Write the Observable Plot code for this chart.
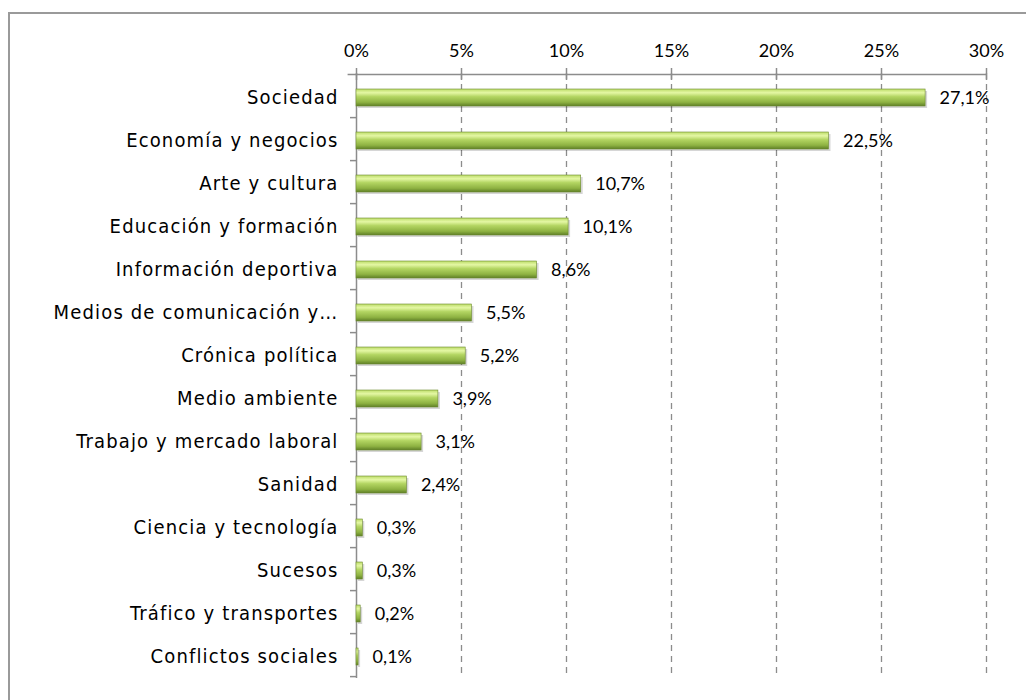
<!DOCTYPE html>
<html>
<head>
<meta charset="utf-8">
<script src="https://cdn.jsdelivr.net/npm/d3@7"></script>
<script src="https://cdn.jsdelivr.net/npm/@observablehq/plot@0.6"></script>
<style>
  html, body { margin: 0; padding: 0; background: #fff; }
  #wrap { position: relative; width: 1026px; height: 700px; overflow: hidden; }
  #border { position: absolute; left: 8px; top: 12px; width: 1100px; height: 800px;
            border-left: 2px solid #9a9a9a; border-top: 2px solid #9a9a9a; box-sizing: border-box; }
  #chart { position: absolute; left: 0; top: 0; }
  #chart g[aria-label="y-axis tick label"] text { letter-spacing: 1.15px; }
</style>
</head>
<body>
<div id="wrap"><div id="border"></div><div id="chart"></div></div>
<script>
const categories = [
  "Sociedad", "Economía y negocios", "Arte y cultura", "Educación y formación",
  "Información deportiva", "Medios de comunicación y…", "Crónica política",
  "Medio ambiente", "Trabajo y mercado laboral", "Sanidad", "Ciencia y tecnología",
  "Sucesos", "Tráfico y transportes", "Conflictos sociales"
];
const values = [27.1, 22.5, 10.7, 10.1, 8.6, 5.5, 5.2, 3.9, 3.1, 2.4, 0.3, 0.3, 0.2, 0.1];
const xTicks = [0, 5, 10, 15, 20, 25, 30];
const gridTicks = [5, 10, 15, 20, 25, 30];

const data = categories.map((c, i) => ({category: c, value: values[i]}));

const W = 1026, H = 700, mt = 75, mb = 20, ml = 356, mr = 40;
const step = (H - mt - mb) / categories.length;
const fmt = v => v.toFixed(1).replace(".", ",") + "%";

const plot = Plot.plot({
  width: W, height: H,
  marginTop: mt, marginBottom: mb, marginLeft: ml, marginRight: mr,
  style: {background: "transparent", overflow: "visible"},
  x: {domain: [0, 30], axis: null, label: null},
  y: {domain: categories, paddingInner: 0.6, paddingOuter: 0.3, axis: null, label: null},
  marks: [
    Plot.ruleX(gridTicks, {stroke: "#8c8c8c", strokeWidth: 1.3, strokeDasharray: "6,5", insetTop: -2, insetBottom: 2}),
    // top axis line
    Plot.ruleY([categories[0]], {x1: -0.4, x2: 30, dy: -step / 2 - 2, stroke: "#8c8c8c", strokeWidth: 1.5}),
    // left axis line
    Plot.ruleX([0], {stroke: "#8c8c8c", strokeWidth: 1.5, insetTop: -2, insetBottom: 2}),
    // top tick marks (crossing)
    Plot.axisX({anchor: "top", ticks: xTicks, tickSize: 12, dy: 4, tickFormat: () => "",
                stroke: "#8c8c8c", strokeWidth: 1.5, label: null}),
    // top tick labels
    Plot.axisX({anchor: "top", ticks: xTicks, tickSize: 0, tickPadding: 19,
                tickFormat: d => d + "%", fontSize: 18, fill: "#000",
                fontFamily: "Lato, sans-serif", label: null}),
    // left tick marks at band boundaries
    Plot.axisY({anchor: "left", tickSize: 6, dy: step / 2 - 2, tickFormat: () => "",
                stroke: "#8c8c8c", strokeWidth: 1.5, label: null}),
    // left category labels
    Plot.axisY({anchor: "left", tickSize: 0, tickPadding: 18, fontSize: 20, fill: "#000",
                fontFamily: "'DejaVu Sans Condensed', 'DejaVu Sans', sans-serif",
                label: null}),
    // shadow
    Plot.barX(data, {x: "value", y: "category", fill: "#000", fillOpacity: 0.16, dx: 2, dy: 2}),
    // bars
    Plot.barX(data, {x: "value", y: "category", fill: "url(#barGrad)", stroke: "#6d8a30", strokeWidth: 0.6}),
    // value labels
    Plot.text(data, {x: "value", y: "category", text: d => fmt(d.value), textAnchor: "start",
                     dx: 14, fontSize: 18, fill: "#000", fontFamily: "Lato, sans-serif"})
  ]
});

const ns = "http://www.w3.org/2000/svg";
const defs = document.createElementNS(ns, "defs");
defs.innerHTML = `
  <linearGradient id="barGrad" x1="0" y1="0" x2="0" y2="1">
    <stop offset="0" stop-color="#bcdc68"/>
    <stop offset="0.22" stop-color="#e4f7a4"/>
    <stop offset="0.45" stop-color="#b3d562"/>
    <stop offset="0.78" stop-color="#8eb242"/>
    <stop offset="1" stop-color="#5f7f27"/>
  </linearGradient>`;
plot.insertBefore(defs, plot.firstChild);
document.getElementById("chart").appendChild(plot);
</script>
</body>
</html>
